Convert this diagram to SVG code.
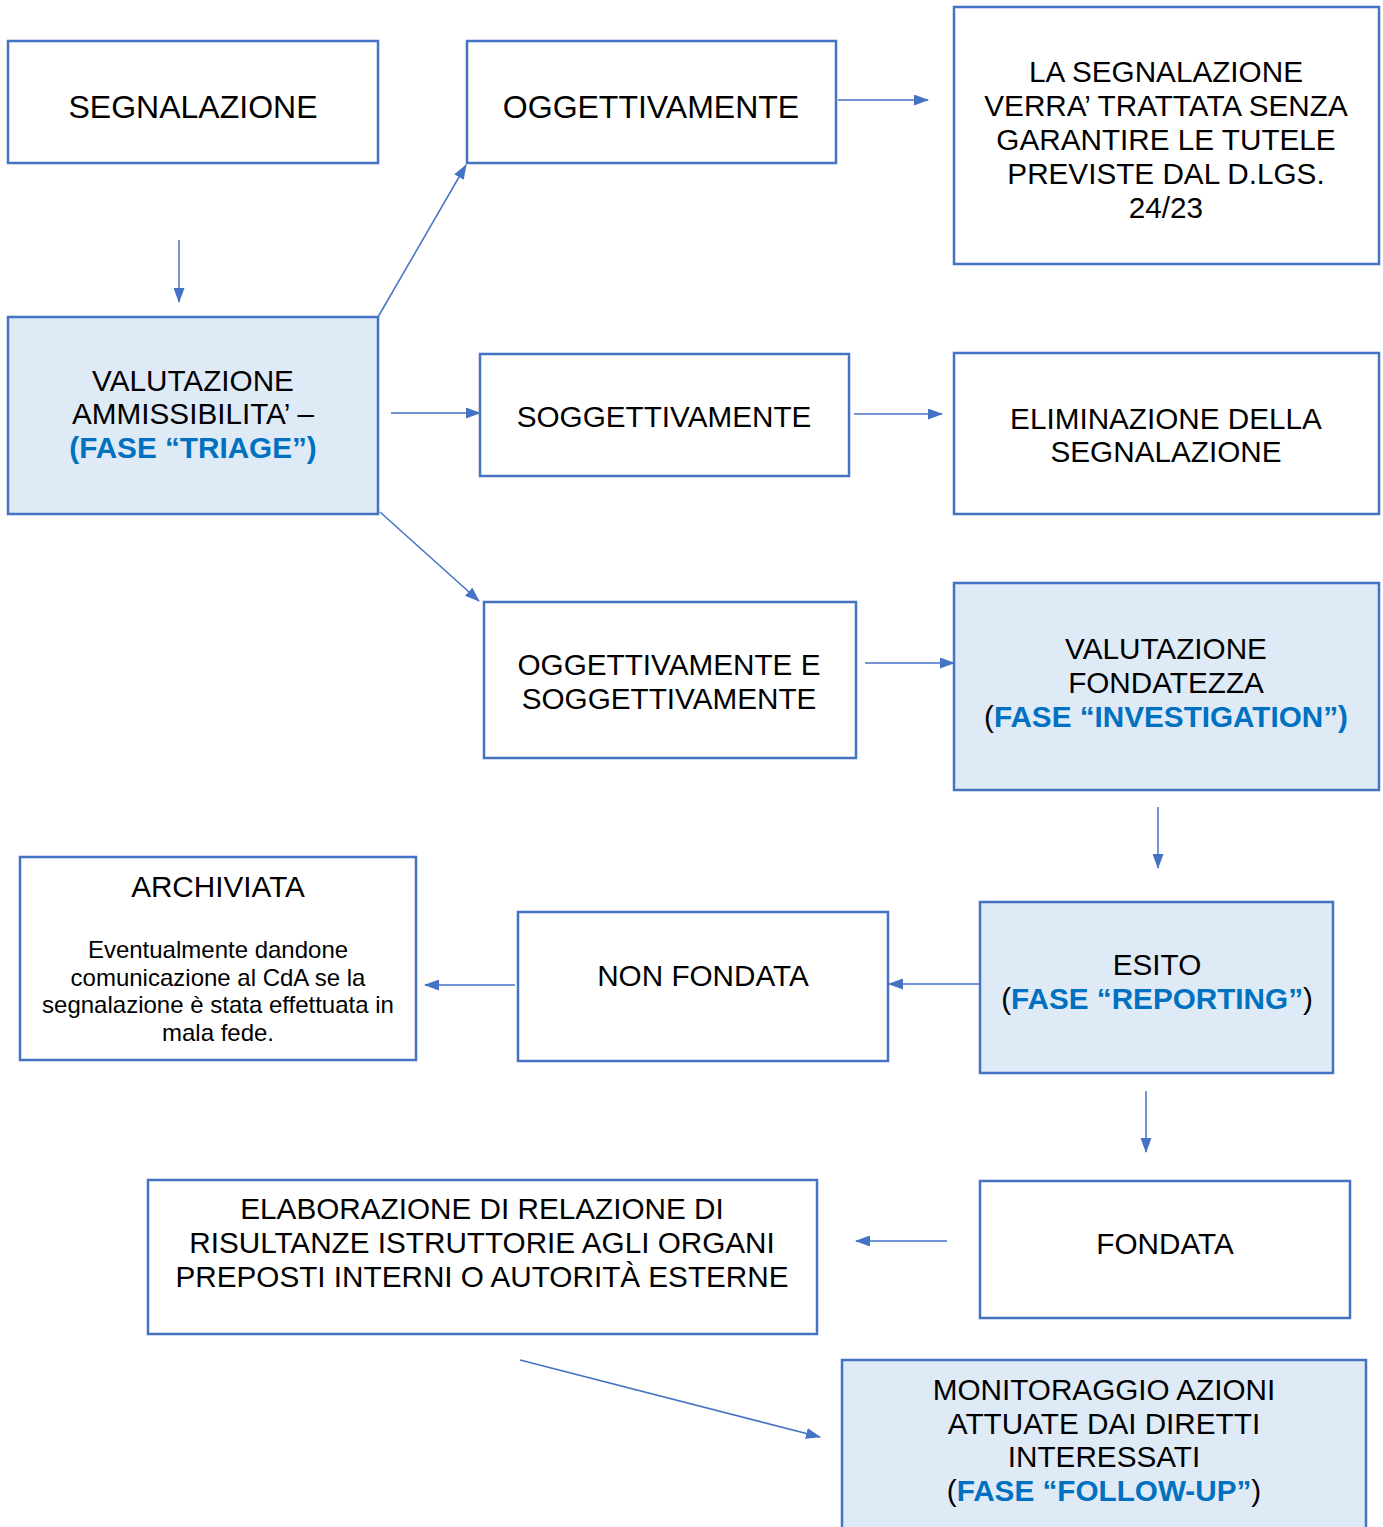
<svg xmlns="http://www.w3.org/2000/svg" width="1383" height="1527" viewBox="0 0 1383 1527">
<style>
.box{fill:#ffffff;stroke:#4472C4;stroke-width:2.5}
.fill{fill:#DEEAF6}
text{font-family:"Liberation Sans",Arial,sans-serif;font-size:29.7px;fill:#000;text-anchor:middle}
.big{font-size:32px}
.b{font-weight:bold;fill:#0070C0}
.s{font-size:24px}
.c{stroke:#4472C4;stroke-width:1.5;fill:none;marker-end:url(#ah)}
</style>
<defs>
<marker id="ah" markerWidth="15" markerHeight="11" refX="14" refY="5.5" orient="auto" markerUnits="userSpaceOnUse" viewBox="0 0 15 11">
<path d="M0,0 L15,5.5 L0,11 Z" fill="#4472C4"/>
</marker>
</defs>
<rect width="1383" height="1527" fill="#fff"/>
<g id="connectors">
<line class="c" x1="179" y1="240" x2="179" y2="302"/>
<line class="c" x1="378" y1="317" x2="466" y2="165"/>
<line class="c" x1="838" y1="100" x2="928" y2="100"/>
<line class="c" x1="391" y1="413" x2="480" y2="413"/>
<line class="c" x1="854" y1="414" x2="942" y2="414"/>
<line class="c" x1="380" y1="512" x2="479" y2="601"/>
<line class="c" x1="865" y1="663" x2="954" y2="663"/>
<line class="c" x1="1158" y1="807" x2="1158" y2="868"/>
<line class="c" x1="980" y1="984" x2="889" y2="984"/>
<line class="c" x1="515" y1="985" x2="425" y2="985"/>
<line class="c" x1="1146" y1="1091" x2="1146" y2="1152"/>
<line class="c" x1="947" y1="1241" x2="856" y2="1241"/>
<line class="c" x1="520" y1="1360" x2="820" y2="1437"/>
</g>
<g id="n1"><rect class="box" x="8" y="41" width="370" height="122"/><text class="big" x="193" y="118">SEGNALAZIONE</text></g>
<g id="n2"><rect class="box" x="467" y="41" width="369" height="122"/><text class="big" x="651" y="118">OGGETTIVAMENTE</text></g>
<g id="n3"><rect class="box" x="954" y="7" width="425" height="257"/>
<text x="1166" y="82">LA SEGNALAZIONE</text>
<text x="1166" y="116">VERRA’ TRATTATA SENZA</text>
<text x="1166" y="150">GARANTIRE LE TUTELE</text>
<text x="1166" y="184">PREVISTE DAL D.LGS.</text>
<text x="1166" y="218">24/23</text></g>
<g id="n4"><rect class="box fill" x="8" y="317" width="370" height="197"/>
<text x="193" y="391">VALUTAZIONE</text>
<text x="193" y="424">AMMISSIBILITA’ –</text>
<text x="193" y="458" class="b">(FASE “TRIAGE”)</text></g>
<g id="n5"><rect class="box" x="480" y="354" width="369" height="122"/><text x="664" y="427">SOGGETTIVAMENTE</text></g>
<g id="n6"><rect class="box" x="954" y="353" width="425" height="161"/>
<text x="1166" y="429">ELIMINAZIONE DELLA</text>
<text x="1166" y="462">SEGNALAZIONE</text></g>
<g id="n7"><rect class="box" x="484" y="602" width="372" height="156"/>
<text x="669" y="675">OGGETTIVAMENTE E</text>
<text x="669" y="709">SOGGETTIVAMENTE</text></g>
<g id="n8"><rect class="box fill" x="954" y="583" width="425" height="207"/>
<text x="1166" y="659">VALUTAZIONE</text>
<text x="1166" y="693">FONDATEZZA</text>
<text x="1166" y="727">(<tspan class="b">FASE “INVESTIGATION”)</tspan></text></g>
<g id="n9"><rect class="box" x="20" y="857" width="396" height="203"/>
<text x="218" y="897">ARCHIVIATA</text>
<text x="218" y="958" class="s">Eventualmente dandone</text>
<text x="218" y="986" class="s">comunicazione al CdA se la</text>
<text x="218" y="1013" class="s">segnalazione è stata effettuata in</text>
<text x="218" y="1041" class="s">mala fede.</text></g>
<g id="n10"><rect class="box" x="518" y="912" width="370" height="149"/><text x="703" y="986">NON FONDATA</text></g>
<g id="n11"><rect class="box fill" x="980" y="902" width="353" height="171"/>
<text x="1157" y="975">ESITO</text>
<text x="1157" y="1009">(<tspan class="b">FASE “REPORTING”</tspan>)</text></g>
<g id="n12"><rect class="box" x="980" y="1181" width="370" height="137"/><text x="1165" y="1254">FONDATA</text></g>
<g id="n13"><rect class="box" x="148" y="1180" width="669" height="154"/>
<text x="482" y="1219">ELABORAZIONE DI RELAZIONE DI</text>
<text x="482" y="1253">RISULTANZE ISTRUTTORIE AGLI ORGANI</text>
<text x="482" y="1287">PREPOSTI INTERNI O AUTORITÀ ESTERNE</text></g>
<g id="n14"><rect class="box fill" x="842" y="1360" width="524" height="180"/>
<text x="1104" y="1400">MONITORAGGIO AZIONI</text>
<text x="1104" y="1434">ATTUATE DAI DIRETTI</text>
<text x="1104" y="1467">INTERESSATI</text>
<text x="1104" y="1501">(<tspan class="b">FASE “FOLLOW-UP”</tspan>)</text></g>
</svg>
